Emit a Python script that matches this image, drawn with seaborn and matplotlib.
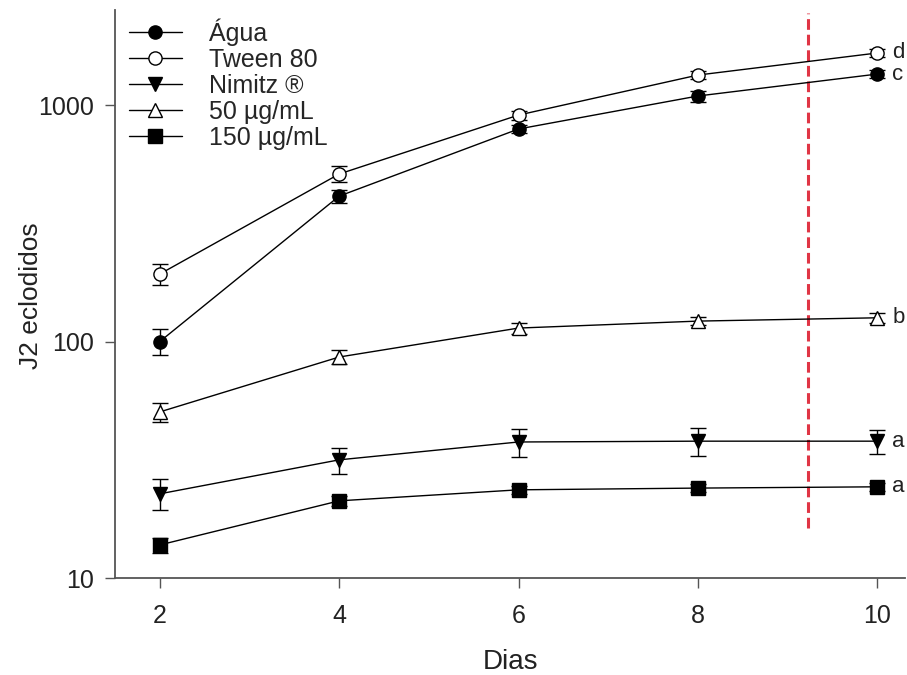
import seaborn as sns
import pandas as pd
import matplotlib.pyplot as plt
import numpy as np

dias = [2, 4, 6, 8, 10]
agua = [100, 412, 792, 1092, 1352]
agua_err = [12.5, 25, 30, 60, 50]
tween = [193, 511, 907, 1339, 1660]
tween_err = [20, 40, 40, 50, 60]
nimitz = [22.7, 31.6, 37.6, 37.9, 37.9]
nimitz_err = [3.4, 4, 5, 5, 4.5]
c50 = [50.4, 86, 114, 122, 126]
c50_err = [4.6, 6, 6, 5, 6]
c150 = [13.8, 21.2, 23.6, 24.0, 24.3]
c150_err = [1, 1, 1, 1, 1]
letras = ['c', 'd', 'a', 'b', 'a']

series = [
    ("Água", agua, agua_err, 'o', 'black'),
    ("Tween 80", tween, tween_err, 'o', 'white'),
    ("Nimitz ®", nimitz, nimitz_err, 'v', 'black'),
    ("50 µg/mL", c50, c50_err, '^', 'white'),
    ("150 µg/mL", c150, c150_err, 's', 'black'),
]

sns.set_style("ticks")
plt.rcParams['font.family'] = ['Liberation Sans', 'DejaVu Sans']

fig = plt.figure(figsize=(9.07, 6.75), dpi=100)
ax = fig.add_axes([0.1268, 0.1437, 0.871, 0.8413])

for (nome, vals, errs, mk, fc), letra in zip(series, letras):
    ax.errorbar(dias, vals, yerr=errs, fmt='none', ecolor='black', elinewidth=1,
                capsize=6, capthick=1, zorder=2)
    df = pd.DataFrame({'Dias': dias, 'J2': vals})
    sns.lineplot(data=df, x='Dias', y='J2', marker=mk, color='black', linewidth=1,
                 markersize=9.5, markerfacecolor=fc, markeredgecolor='black',
                 markeredgewidth=1, label=nome, ax=ax, zorder=3)
    ax.text(10.17, vals[-1], letra, fontsize=16, va='center', ha='left', color='#222222')

ax.plot([9.23, 9.23], [16.3, 2450], color='#e03545', linestyle='--', linewidth=2.2,
        dashes=(3.5, 1.6), zorder=1)

ax.set_yscale('log')
ax.set_ylim(10, 2520)
ax.set_xlim(1.5, 10.31)
ax.set_xticks(dias)
ax.set_yticks([10, 100, 1000])
ax.set_yticklabels(['10', '100', '1000'])
ax.yaxis.set_minor_locator(plt.NullLocator())
ax.tick_params(axis='both', direction='out', length=7, width=1, labelsize=18,
               pad=8, colors='#555555', labelcolor='#222222')
ax.tick_params(axis='x', pad=12)
for s in ['top', 'right']:
    ax.spines[s].set_visible(False)
for s in ['left', 'bottom']:
    ax.spines[s].set_color('#555555')
    ax.spines[s].set_linewidth(1.3)

ax.set_xlabel('Dias', fontsize=20, color='#222222')
ax.xaxis.set_label_coords(0.5, -0.148)
ax.xaxis.label.set_va('center')
ax.set_ylabel('J2 eclodidos', fontsize=19, color='#222222')
ax.yaxis.set_label_coords(-0.106, 0.498)
ax.yaxis.label.set_va('center')

leg = ax.legend(loc='upper left', frameon=False, fontsize=18, handlelength=2.1,
                handletextpad=1.1, labelspacing=0.08, borderaxespad=0, borderpad=0,
                bbox_to_anchor=(0.018, 0.985))

fig.savefig('out.png', dpi=100)
